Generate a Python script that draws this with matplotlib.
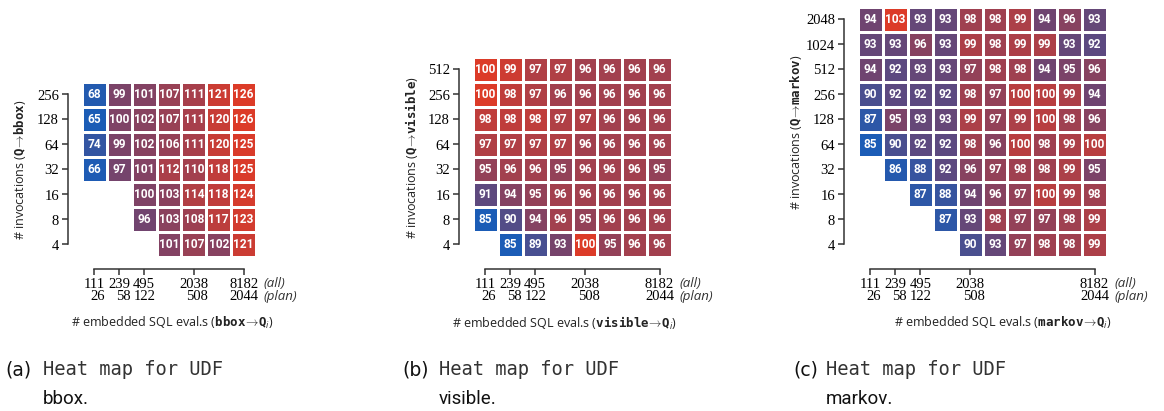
import numpy as np
import matplotlib
matplotlib.use("Agg")
import matplotlib.pyplot as plt
from matplotlib.colors import LinearSegmentedColormap

plt.rcParams['mathtext.fontset'] = 'custom'
plt.rcParams['mathtext.rm'] = 'Open Sans'
plt.rcParams['mathtext.it'] = 'Open Sans:italic'
plt.rcParams['mathtext.tt'] = 'DejaVu Sans Mono:bold'

# x tick labels: (all) / (plan) eval counts
x_all = ["111", "239", "495", "2038", "8182"]
x_plan = ["26", "58", "122", "508", "2044"]

# panel (a) bbox
bbox_rows = [256, 128, 64, 32, 16, 8, 4]
bbox_ticks = [0, 1, 2, 4, 6]
bbox_vals = [
    [68, 99, 101, 107, 111, 121, 126],
    [65, 100, 102, 107, 111, 120, 126],
    [74, 99, 102, 106, 111, 120, 125],
    [66, 97, 101, 112, 110, 118, 125],
    [None, None, 100, 103, 114, 118, 124],
    [None, None, 96, 103, 108, 117, 123],
    [None, None, None, 101, 107, 102, 121],
]

# panel (b) visible
visible_rows = [512, 256, 128, 64, 32, 16, 8, 4]
visible_ticks = [0, 1, 2, 4, 7]
visible_vals = [
    [100, 99, 97, 97, 96, 96, 96, 96],
    [100, 98, 97, 96, 96, 96, 96, 96],
    [98, 98, 98, 97, 97, 96, 96, 96],
    [97, 97, 97, 97, 96, 96, 96, 96],
    [95, 96, 96, 95, 96, 96, 96, 95],
    [91, 94, 95, 96, 96, 96, 96, 96],
    [85, 90, 94, 96, 95, 96, 96, 96],
    [None, 85, 89, 93, 100, 95, 96, 96],
]

# panel (c) markov
markov_rows = [2048, 1024, 512, 256, 128, 64, 32, 16, 8, 4]
markov_ticks = [0, 1, 2, 4, 9]
markov_vals = [
    [94, 103, 93, 93, 98, 98, 99, 94, 96, 93],
    [93, 93, 96, 93, 99, 98, 99, 99, 93, 92],
    [94, 92, 93, 93, 97, 98, 98, 94, 95, 96],
    [90, 92, 92, 92, 98, 97, 100, 100, 99, 94],
    [87, 95, 93, 93, 99, 97, 99, 100, 98, 96],
    [85, 90, 92, 92, 98, 96, 100, 98, 99, 100],
    [None, 86, 88, 92, 96, 97, 98, 98, 99, 95],
    [None, None, 87, 88, 94, 96, 97, 100, 99, 98],
    [None, None, None, 87, 93, 98, 97, 97, 98, 99],
    [None, None, None, None, 90, 93, 97, 98, 98, 99],
]

cmap = LinearSegmentedColormap.from_list(
    "bluered", [(0.0, "#1b5cb6"), (0.5, "#6f4470"), (1.0, "#dc3b28")])

W, H = 1164, 411
fig = plt.figure(figsize=(W / 100, H / 100), dpi=100)

spine_col = "#333333"
serif = "Liberation Serif"


def heatmap(box, udf, rows, vals, ticks, xlab_x):
    left, top, right, bottom = box
    ax = fig.add_axes([left / W, 1 - bottom / H, (right - left) / W, (bottom - top) / H])
    data = np.array([[np.nan if v is None else v for v in r] for r in vals], dtype=float)
    data = data[::-1]  # row 0 at the bottom
    m = np.ma.masked_invalid(data)
    nr, nc = data.shape
    ax.pcolormesh(np.arange(nc + 1) - 0.5, np.arange(nr + 1) - 0.5, m, cmap=cmap,
                  vmin=np.nanmin(data), vmax=np.nanmax(data),
                  edgecolors="white", linewidth=0.8)
    for i in range(nr):
        for j in range(nc):
            if not np.isnan(data[i, j]):
                ax.text(j, i, "%d" % data[i, j], ha="center", va="center",
                        color="white", fontsize=8.6, fontweight="bold",
                        family="Roboto")
    ax.set_xlim(-0.5, nc - 0.5)
    ax.set_ylim(-0.5, nr - 0.5)

    for s in ["top", "right"]:
        ax.spines[s].set_visible(False)
    ax.spines["left"].set_position(("outward", 10))
    ax.spines["bottom"].set_position(("outward", 8.6))
    ax.spines["left"].set_bounds(0, nr - 1)
    ax.spines["bottom"].set_bounds(ticks[0], ticks[-1])
    for s in ["left", "bottom"]:
        ax.spines[s].set_color(spine_col)
        ax.spines[s].set_linewidth(1.1)

    ax.set_yticks(range(nr))
    ax.set_yticklabels([str(r) for r in rows[::-1]])
    ax.set_xticks(ticks)
    ax.set_xticklabels([a + "\n" + p for a, p in zip(x_all, x_plan)],
                       multialignment="right", linespacing=0.95)
    ax.tick_params(length=4.5, width=1.1, color=spine_col, pad=2,
                   labelsize=10.5, labelfontfamily=serif)

    ax.annotate("(all)\n(plan)", xy=(ticks[-1], 0), xycoords=("data", "axes fraction"),
                xytext=(14.5, -14.5), textcoords="offset points", ha="left", va="top",
                fontsize=9.5, style="italic", family="Open Sans", color="#333333",
                linespacing=0.95)

    ax.set_xlabel(r"# embedded SQL eval.s ($\mathtt{" + udf + r"}\!\rightarrow\!\mathtt{Q}_i$)",
                  fontsize=9, family="Open Sans", color="#222222")
    ax.xaxis.set_label_coords(xlab_x, -(323 - bottom) / (bottom - top))
    ax.xaxis.label.set_va("center")
    ax.set_ylabel(r"# invocations ($\mathtt{Q}\!\rightarrow\!\mathtt{" + udf + r"}$)",
                  fontsize=9, family="Open Sans", color="#222222")
    ax.yaxis.set_label_coords(-62 / (right - left), 0.5)
    ax.yaxis.label.set_va("center")
    return ax


heatmap((82, 82, 256, 257), "bbox", bbox_rows, bbox_vals, bbox_ticks, 0.52)
heatmap((473, 57, 672, 257), "visible", visible_rows, visible_vals, visible_ticks, 0.46)
heatmap((858, 7, 1107, 257), "markov", markov_rows, markov_vals, markov_ticks, 0.58)

# captions
captions = [("(a)", "bbox.", 5, 43), ("(b)", "visible.", 402, 439), ("(c)", "markov.", 793, 826)]
for tag, name, x0, x1 in captions:
    fig.text(x0 / W, 1 - 375 / H, tag, fontsize=13.5, family="DejaVu Sans",
             va="baseline", ha="left", color="#111111")
    fig.text(x1 / W, 1 - 375 / H, "Heat map for UDF", fontsize=13.5, family="DejaVu Sans Mono",
             va="baseline", ha="left", color="#333333")
    fig.text(x1 / W, 1 - 404 / H, name, fontsize=13.5, family="Roboto",
             va="baseline", ha="left", color="#111111")

fig.savefig("out.png", dpi=100)
